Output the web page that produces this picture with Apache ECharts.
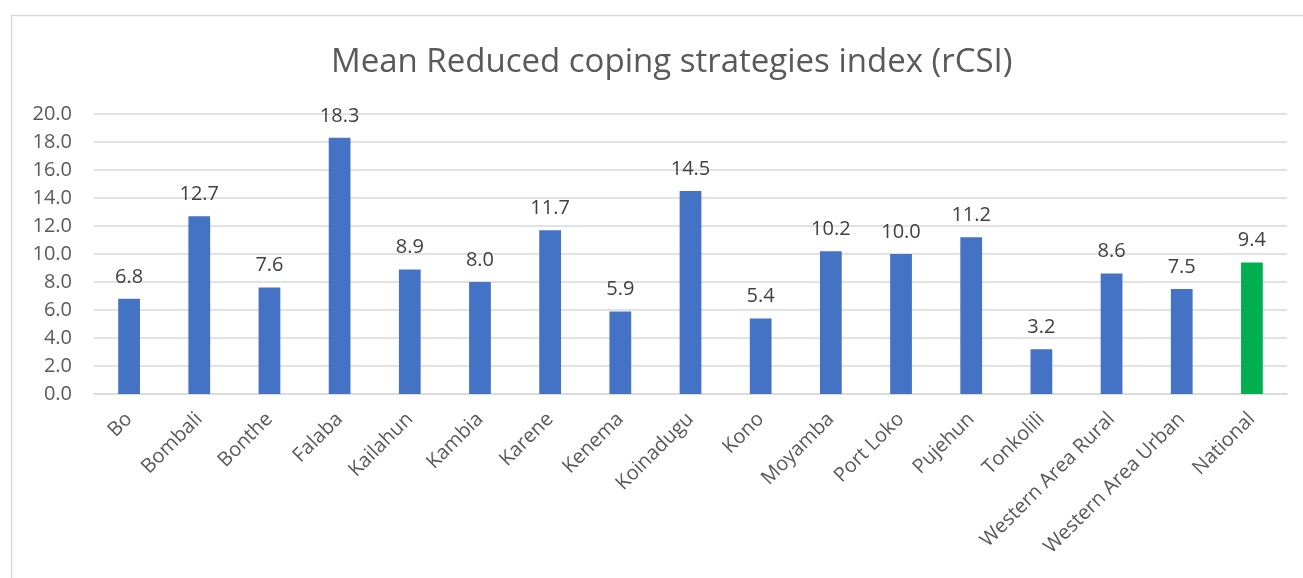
<!DOCTYPE html>
<html><head><meta charset="utf-8">
<script src="https://cdn.jsdelivr.net/npm/echarts@6/dist/echarts.min.js"></script>
<style>html,body{margin:0;padding:0;background:#fff}#c{width:1303px;height:578px}</style>
</head><body><div id="c"></div>
<script>
const categories = ["Bo","Bombali","Bonthe","Falaba","Kailahun","Kambia","Karene","Kenema","Koinadugu","Kono","Moyamba","Port Loko","Pujehun","Tonkolili","Western Area Rural","Western Area Urban","National"];
const values = [6.8,12.7,7.6,18.3,8.9,8.0,11.7,5.9,14.5,5.4,10.2,10.0,11.2,3.2,8.6,7.5,9.4];
const highlightCategory = "National";
const titleText = "Mean Reduced coping strategies index (rCSI)";

const chart = echarts.init(document.getElementById('c'));
const font = "'Open Sans', 'Noto Sans', sans-serif";
chart.setOption({
  animation: false,
  title: {text: titleText, left: 326, top: 41, textStyle:{fontFamily: font, fontSize: 33, fontWeight: 'normal', color:'#595959'}},
  grid: {left: 94, right: 16, top: 114, bottom: 184, containLabel: false},
  graphic: [{type:'rect', shape:{x:11.5,y:15.5,width:1300,height:580}, style:{fill:'none', stroke:'#D9D9D9', lineWidth:1.5}, silent:true}],
  xAxis: {type:'category', data: categories,
    axisLine:{lineStyle:{color:'#D9D9D9', width:1.5}}, axisTick:{show:false},
    axisLabel:{rotate:45, interval:0, fontFamily: font, fontSize:20, color:'#595959', margin:22}},
  yAxis: {type:'value', min:0, max:20, interval:2,
    axisLine:{show:false}, axisTick:{show:false},
    splitLine:{lineStyle:{color:'#D9D9D9', width:1.5}},
    axisLabel:{formatter: v => v.toFixed(1), fontFamily: font, fontSize:20, color:'#595959', margin:22}},
  series: [{type:'bar', barWidth:'31%',
    data: values.map((v,i) => ({value:v, itemStyle:{color: categories[i]===highlightCategory ? '#00B050' : '#4472C4'}})),
    label:{show:true, position:'top', distance:12, formatter: p => p.value.toFixed(1), fontFamily: font, fontSize:20, color:'#404040'}}]
});
</script></body></html>
